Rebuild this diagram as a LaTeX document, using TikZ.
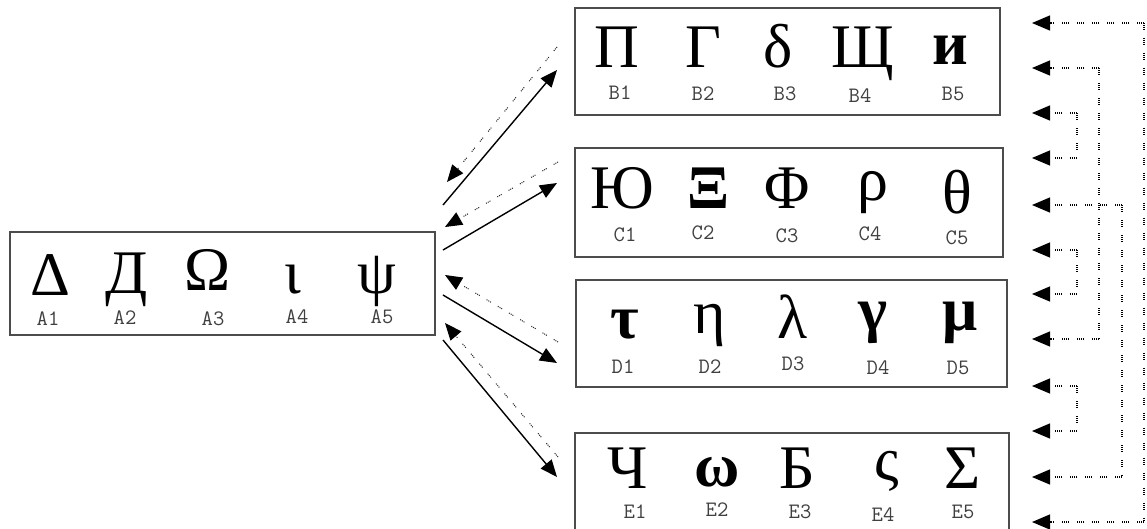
\documentclass[tikz,border=0pt]{standalone}
\usepackage{fontspec}
\setmainfont{Liberation Serif}
\usetikzlibrary{arrows.meta}
\begin{document}
\begin{tikzpicture}[x=1pt,y=-1pt,
  box/.style={draw=black!70, line width=1.3pt, inner sep=0pt, outer sep=0pt},
  sym/.style={anchor=base, inner sep=0pt, font=\fontsize{62}{64}\selectfont},
  bsym/.style={sym, font=\fontsize{62}{64}\selectfont\bfseries},
  lbl/.style={anchor=base, inner sep=0pt, font=\ttfamily\fontsize{22}{23}\selectfont, text=black!75},
  solidarrow/.style={line width=1.4pt, -{Triangle[length=17pt,width=14pt]}},
  dotarrow/.style={line width=1pt, black!85, dash pattern=on 1pt off 1pt on 1pt off 1pt on 1pt off 8pt, -{Triangle[length=17pt,width=14pt,color=black]}},
  rarrow/.style={line width=1.2pt, black, dash pattern=on 1pt off 1pt on 1pt off 1pt on 1pt off 1pt on 1pt off 8pt, -{Triangle[length=18pt,width=15pt]}},
  dotline/.style={line width=1.2pt, black, dash pattern=on 1pt off 1pt on 1pt off 1pt on 1pt off 1pt on 1pt off 8pt}
]
\useasboundingbox (0,0) rectangle (1147,528);
\clip (0,0) rectangle (1147,528);
\fill[white] (0,0) rectangle (1147,528);

% boxes
\node[box, minimum width=425pt, minimum height=103pt] (boxA) at (222.5,283.5) {};
\node[box, minimum width=425pt, minimum height=107pt] (boxB) at (787.5,61.5) {};
\node[box, minimum width=428pt, minimum height=109pt] (boxC) at (789,202.5) {};
\node[box, minimum width=431pt, minimum height=107pt] (boxD) at (791.5,333.5) {};
\node[box, minimum width=434pt, minimum height=112pt] (boxE) at (792,489) {};

% A row
\node[sym] (sA1) at (50,295) {Δ};
\node[sym] (sA2) at (127,293) {Д};
\node[sym] (sA3) at (208,290) {Ω};
\node[sym] (sA4) at (293,293) {ι};
\node[sym] (sA5) at (377,293) {ψ};
\node[lbl] (lA1) at (48,325) {A1};
\node[lbl] (lA2) at (125,324) {A2};
\node[lbl] (lA3) at (213,325) {A3};
\node[lbl] (lA4) at (297,323) {A4};
\node[lbl] (lA5) at (382,323) {A5};

% B row
\node[sym] (sB1) at (617,67) {П};
\node[sym] (sB2) at (703,67) {Г};
\node[sym] (sB3) at (778,67) {δ};
\node[sym] (sB4) at (863,67) {Щ};
\node[bsym] (sB5) at (950,64) {и};
\node[lbl] (lB1) at (620,99) {B1};
\node[lbl] (lB2) at (703,100) {B2};
\node[lbl] (lB3) at (785,100) {B3};
\node[lbl] (lB4) at (860,102) {B4};
\node[lbl] (lB5) at (953,100) {B5};

% C row
\node[sym] (sC1) at (622,208) {Ю};
\node[bsym] (sC2) at (708,208) {Ξ};
\node[sym] (sC3) at (787,208) {Φ};
\node[sym] (sC4) at (873,200) {ρ};
\node[sym] (sC5) at (957,213) {θ};
\node[lbl] (lC1) at (625,241) {C1};
\node[lbl] (lC2) at (703,239) {C2};
\node[lbl] (lC3) at (787,242) {C3};
\node[lbl] (lC4) at (870,240) {C4};
\node[lbl] (lC5) at (957,244) {C5};

% D row
\node[bsym] (sD1) at (625,338) {τ};
\node[sym] (sD2) at (710,333) {η};
\node[sym] (sD3) at (793,338) {λ};
\node[bsym] (sD4) at (873,330) {γ};
\node[bsym] (sD5) at (960,330) {μ};
\node[lbl] (lD1) at (623,373) {D1};
\node[lbl] (lD2) at (710,373) {D2};
\node[lbl] (lD3) at (793,370) {D3};
\node[lbl] (lD4) at (878,374) {D4};
\node[lbl] (lD5) at (958,374) {D5};

% E row
\node[sym] (sE1) at (628,488) {Ч};
\node[bsym] (sE2) at (717,486) {ω};
\node[sym] (sE3) at (797,488) {Б};
\node[sym] (sE4) at (887,480) {ς};
\node[sym] (sE5) at (963,488) {Σ};
\node[lbl] (lE1) at (635,518) {E1};
\node[lbl] (lE2) at (717,516) {E2};
\node[lbl] (lE3) at (800,518) {E3};
\node[lbl] (lE4) at (883,521) {E4};
\node[lbl] (lE5) at (963,518) {E5};

% arrow end points between A and the other boxes
\coordinate (aB) at (443,205); \coordinate (tB) at (557,70);
\coordinate (aC) at (443,250); \coordinate (tC) at (557,183);
\coordinate (aD) at (443,295); \coordinate (tD) at (557,363);
\coordinate (aE) at (443,340); \coordinate (tE) at (557,477);
\coordinate (fB) at (557,47);  \coordinate (gB) at (447,182);
\coordinate (fC) at (558,162); \coordinate (gC) at (445,227);
\coordinate (fD) at (558,342); \coordinate (gD) at (445,275);
\coordinate (fE) at (558,457); \coordinate (gE) at (445,323);

\draw[solidarrow] (aB) -- (tB);
\draw[solidarrow] (aC) -- (tC);
\draw[solidarrow] (aD) -- (tD);
\draw[solidarrow] (aE) -- (tE);
\draw[dotarrow] (fB) -- (gB);
\draw[dotarrow] (fC) -- (gC);
\draw[dotarrow] (fD) -- (gD);
\draw[dotarrow] (fE) -- (gE);

% right-hand bracket tree
\foreach \i/\y in {1/23,2/68,3/113,4/158,5/205,6/250,7/294,8/339,9/386,10/431,11/477,12/522}{
  \coordinate (r\i) at (1032,\y);
}
\foreach \i/\x in {1/1144,2/1099,3/1077,4/1077,5/1122,6/1077,7/1077,8/1099,9/1077,10/1077,11/1122,12/1144}{
  \coordinate (k\i) at (\x,0 |- r\i);
  \draw[rarrow] (k\i) -- (r\i);
}
\draw[dotline] (k1) -- (k12);
\draw[dotline] (k2) -- (k8);
\draw[dotline] (k5) -- (k11);
\draw[dotline] (k3) -- (k4);
\draw[dotline] (k6) -- (k7);
\draw[dotline] (k9) -- (k10);
\end{tikzpicture}
\end{document}
